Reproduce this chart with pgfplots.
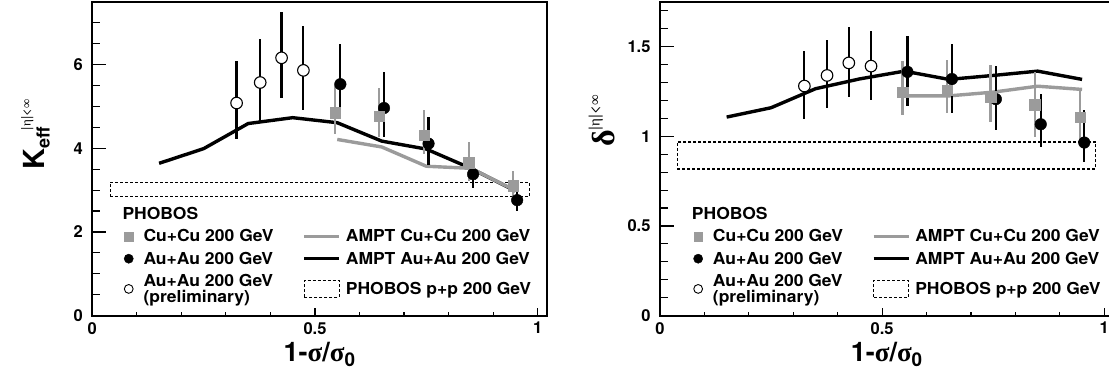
\documentclass[border=0pt]{standalone}
\usepackage{pgfplots}
\pgfplotsset{compat=1.18}
\usepackage{pgfplotstable}
\usepackage{fontspec}
\setmainfont{TeX Gyre Heros}
\newfontfamily\lgf[FakeStretch=1.06]{TeX Gyre Heros}
\newfontfamily\gr{Liberation Serif}
\definecolor{rgray}{RGB}{155,155,155}

% ---------------- left panel data (K_eff) ----------------
\pgfplotstableread{
x y ep em
0.324 5.08 1.01 0.85
0.377 5.57 1.04 0.95
0.425 6.16 1.09 0.96
0.474 5.86 1.07 0.94
}\KOpen
\pgfplotstableread{
x y ep em
0.557 5.53 0.97 0.70
0.655 4.96 0.85 0.69
0.755 4.11 0.63 0.50
0.855 3.38 0.32 0.32
0.954 2.76 0.27 0.27
}\KAu
\pgfplotstableread{
x y ep em
0.545 4.85 0.65 0.52
0.644 4.77 0.67 0.51
0.745 4.31 0.60 0.45
0.845 3.66 0.49 0.45
0.945 3.10 0.36 0.36
}\KCu
\pgfplotstableread{
x y
0.15 3.64
0.25 3.99
0.35 4.59
0.45 4.73
0.55 4.61
0.65 4.17
0.75 3.98
0.85 3.52
0.95 2.98
}\KAmptAu
\pgfplotstableread{
x y
0.55 4.21
0.65 4.03
0.75 3.57
0.85 3.52
0.95 2.99
}\KAmptCu
% ---------------- right panel data (delta) ----------------
\pgfplotstableread{
x y ep em
0.325 1.280 0.198 0.182
0.376 1.339 0.198 0.180
0.425 1.409 0.198 0.190
0.475 1.391 0.196 0.191
}\DOpen
\pgfplotstableread{
x y ep em
0.557 1.359 0.198 0.192
0.657 1.319 0.198 0.189
0.756 1.207 0.182 0.170
0.857 1.067 0.170 0.128
0.955 0.965 0.183 0.108
}\DAu
\pgfplotstableread{
x y ep em
0.546 1.246 0.171 0.126
0.646 1.256 0.170 0.126
0.744 1.219 0.179 0.139
0.844 1.176 0.180 0.180
0.946 1.107 0.158 0.130
}\DCu
\pgfplotstableread{
x y
0.15 1.107
0.25 1.159
0.35 1.265
0.45 1.320
0.55 1.363
0.65 1.317
0.75 1.339
0.85 1.363
0.95 1.317
}\DAmptAu
\pgfplotstableread{
x y
0.55 1.225
0.65 1.225
0.75 1.246
0.85 1.279
0.95 1.261
}\DAmptCu

\begin{document}
\begin{tikzpicture}
\pgfplotsset{
  phob/.style={
    scale only axis, width=454.7pt, height=314pt, anchor=south west,
    xmin=0, xmax=1.021,
    xtick={0,0.5,1}, xticklabels={0,0.5,1},
    minor xtick={0.1,0.2,0.3,0.4,0.6,0.7,0.8,0.9},
    axis line style={line width=1.8pt},
    tick align=inside, major tick length=8pt, minor tick length=4pt,
    every tick/.style={black, line width=1.1pt},
    xtick pos=bottom, ytick pos=left,
    tick label style={font=\fontsize{16.5}{16.5}\selectfont\bfseries},
    /pgf/number format/assume math mode=true,
    yticklabel style={xshift=-6pt},
    xticklabel style={yshift=-3pt},
    extra y tick style={major tick length=14pt},
    legend columns=2,
    legend cell align=left,
    legend style={draw=none, fill=none, anchor=north west,
      font=\lgf\fontsize{16.5}{16}\selectfont\bfseries, cells={align=left},
      row sep=4.5pt, inner sep=0pt,
      /tikz/every odd column/.append style={column sep=3pt},
      /tikz/every even column/.append style={column sep=27pt}},
    xlabel={1-{\gr σ}/{\gr σ}\textsubscript{0}},
    xlabel style={at={(axis description cs:0.5,0)}, anchor=center, yshift=-39pt,
      font=\fontsize{27}{27}\selectfont\bfseries},
    ylabel style={anchor=center, font=\bfseries},
  },
  ampt/.style={line width=3.4pt, forget plot},
  errs/.style={error bars/.cd, y dir=both, y explicit, error mark=none,
      error bar style={line width=2.2pt, #1}},
  lgsq/.style={legend image code/.code={\fill[rgray] (-4.4pt,-4.4pt) rectangle (4.4pt,4.4pt); \path (9.6pt,0pt);}},
  lgfc/.style={legend image code/.code={\fill[black] (0pt,0pt) circle (4.6pt); \path (9.6pt,0pt);}},
  lgoc/.style={legend image code/.code={\draw[black, line width=0.9pt, fill=white] (0pt,0pt) circle (4.4pt); \path (9.6pt,0pt);}},
  lgln/.style={legend image code/.code={\draw[#1, line width=3.4pt] (0pt,0pt) -- (35pt,0pt);}},
  lgbox/.style={legend image code/.code={\draw[black, densely dashed, line width=1.2pt] (0pt,-8.3pt) rectangle (35pt,8.3pt);}},
}
% ================= LEFT =================
\begin{axis}[phob, at={(92.3pt,60.3pt)},
  ymin=0, ymax=7.5,
  ytick={0.5,1,1.5,2.5,3,3.5,4.5,5,5.5,6.5,7}, yticklabels={},
  extra y ticks={0,2,4,6}, extra y tick labels={0,2,4,6},
  legend style={at={(axis description cs:0.069,0.352)}},
  ylabel={{\fontsize{29}{29}\selectfont K}\raisebox{-5pt}{\fontsize{18}{18}\selectfont eff}\kern-3pt\raisebox{14pt}{\fontsize{13}{13}\selectfont\mdseries |{\gr η}|<{\gr ∞}}},
  ylabel style={at={(axis description cs:-0.125,0.577)}},
]
\addlegendimage{empty legend}\addlegendentry{\hspace*{-21pt}PHOBOS}
\addlegendimage{empty legend}\addlegendentry{}
\addlegendimage{lgsq}\addlegendentry{Cu+Cu 200 GeV}
\addlegendimage{lgln=rgray}\addlegendentry{AMPT Cu+Cu 200 GeV}
\addlegendimage{lgfc}\addlegendentry{Au+Au 200 GeV}
\addlegendimage{lgln=black}\addlegendentry{AMPT Au+Au 200 GeV}
\addlegendimage{lgoc}\addlegendentry{Au+Au 200 GeV\\(preliminary)}
\addlegendimage{lgbox}\addlegendentry{PHOBOS p+p 200 GeV}

\addplot[black, densely dashed, line width=1.2pt, forget plot] coordinates {(0.040,2.84) (0.981,2.84) (0.981,3.19) (0.040,3.19) (0.040,2.84)};
\addplot[ampt, black] table[x=x,y=y] {\KAmptAu};
\addplot[ampt, rgray] table[x=x,y=y] {\KAmptCu};
\addplot[only marks, forget plot, mark=*, mark size=5.8pt, mark options={fill=white, draw=black, line width=1.1pt}, errs=black]
  table[x=x, y=y, y error plus=ep, y error minus=em] {\KOpen};
\addplot[only marks, forget plot, mark=*, mark size=5.8pt, mark options={fill=black, draw=black}, errs=black]
  table[x=x, y=y, y error plus=ep, y error minus=em] {\KAu};
\addplot[only marks, forget plot, mark=square*, mark size=5.3pt, mark options={fill=rgray, draw=rgray}, errs=rgray]
  table[x=x, y=y, y error plus=ep, y error minus=em] {\KCu};
\end{axis}
% ================= RIGHT =================
\begin{axis}[phob, at={(660pt,60.3pt)}, width=453.6pt,
  ymin=0, ymax=1.75,
  ytick={0.1,0.2,0.3,0.4,0.6,0.7,0.8,0.9,1.1,1.2,1.3,1.4,1.6,1.7}, yticklabels={},
  extra y ticks={0,0.5,1,1.5}, extra y tick labels={0,0.5,1,1.5},
  legend style={at={(axis description cs:0.073,0.352)}},
  ylabel={{\gr\fontsize{32}{32}\selectfont δ}\raisebox{15pt}{\fontsize{15}{15}\selectfont\mdseries |{\gr η}|<{\gr ∞}}},
  ylabel style={at={(axis description cs:-0.128,0.62)}},
]
\addlegendimage{empty legend}\addlegendentry{\hspace*{-21pt}PHOBOS}
\addlegendimage{empty legend}\addlegendentry{}
\addlegendimage{lgsq}\addlegendentry{Cu+Cu 200 GeV}
\addlegendimage{lgln=rgray}\addlegendentry{AMPT Cu+Cu 200 GeV}
\addlegendimage{lgfc}\addlegendentry{Au+Au 200 GeV}
\addlegendimage{lgln=black}\addlegendentry{AMPT Au+Au 200 GeV}
\addlegendimage{lgoc}\addlegendentry{Au+Au 200 GeV\\(preliminary)}
\addlegendimage{lgbox}\addlegendentry{PHOBOS p+p 200 GeV}

\addplot[black, densely dashed, line width=1.2pt, forget plot] coordinates {(0.039,0.818) (0.981,0.818) (0.981,0.968) (0.039,0.968) (0.039,0.818)};
\addplot[ampt, black] table[x=x,y=y] {\DAmptAu};
\addplot[ampt, rgray] table[x=x,y=y] {\DAmptCu};
\addplot[only marks, forget plot, mark=*, mark size=5.8pt, mark options={fill=white, draw=black, line width=1.1pt}, errs=black]
  table[x=x, y=y, y error plus=ep, y error minus=em] {\DOpen};
\addplot[only marks, forget plot, mark=*, mark size=5.8pt, mark options={fill=black, draw=black}, errs=black]
  table[x=x, y=y, y error plus=ep, y error minus=em] {\DAu};
\addplot[only marks, forget plot, mark=square*, mark size=5.3pt, mark options={fill=rgray, draw=rgray}, errs=rgray]
  table[x=x, y=y, y error plus=ep, y error minus=em] {\DCu};
\end{axis}
\pgfresetboundingbox
\path[use as bounding box] (0pt,0pt) rectangle (1109pt,376pt);
\end{tikzpicture}
\end{document}
